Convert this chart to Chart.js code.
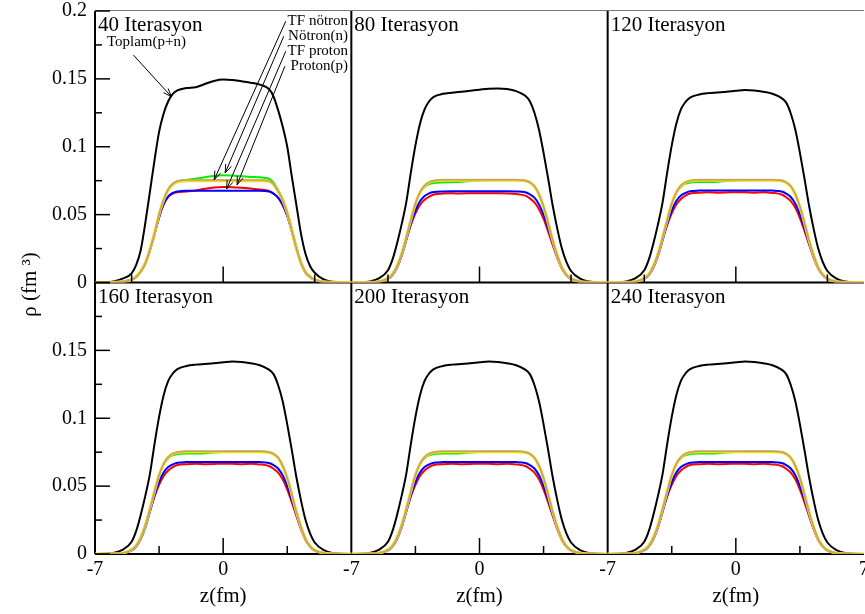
<!DOCTYPE html>
<html>
<head>
<meta charset="utf-8">
<script src="https://cdn.jsdelivr.net/npm/chart.js@4.4.1/dist/chart.umd.min.js"></script>
<style>
html, body { margin: 0; padding: 0; background: #fff; }
#kutu { width: 865px; height: 614px; position: relative; }
</style>
</head>
<body>
<div id="kutu"><canvas id="grafico" width="865" height="614"></canvas></div>
<script>
// z (fm) noktalari, tum seriler icin ortak
const zDegerleri = [-7, -6.5, -6, -5.5, -5, -4.75, -4.5, -4.25, -4, -3.75, -3.5, -3.25, -3, -2.75, -2.5, -2, -1.5, -1, -0.5, 0,
    0.5, 1, 1.5, 2, 2.5, 2.75, 3, 3.25, 3.5, 3.75, 4, 4.25, 4.5, 4.75, 5, 5.5, 6, 6.5, 7];

const basliklar = ['40 Iterasyon', '80 Iterasyon', '120 Iterasyon', '160 Iterasyon', '200 Iterasyon', '240 Iterasyon'];
const yTikleri = [0, 0.05, 0.1, 0.15, 0.2];
const yAraTikleri = [0.025, 0.075, 0.125, 0.175];
const xTikleri = [-7, 0, 7];

// 40 iterasyon
const toplam40 = [0, 0.0002, 0.0008, 0.0028, 0.0068, 0.013, 0.024, 0.044, 0.067, 0.090, 0.111, 0.1245, 0.1335, 0.139, 0.1415, 0.1432, 0.1438, 0.1462, 0.1485, 0.1495,
    0.1492, 0.1482, 0.1472, 0.1458, 0.1425, 0.137, 0.127, 0.115, 0.100, 0.078, 0.057, 0.036, 0.021, 0.012, 0.0072, 0.0022, 0.0005, 0.0001, 0];
const notron40 = [0, 0, 0.0001, 0.0005, 0.002, 0.004, 0.008, 0.014, 0.024, 0.036, 0.050, 0.061, 0.0685, 0.0728, 0.0745, 0.0755, 0.0765, 0.0775, 0.0785, 0.079,
    0.0788, 0.0782, 0.0778, 0.0775, 0.0765, 0.0735, 0.068, 0.0615, 0.052, 0.0395, 0.026, 0.015, 0.0075, 0.0042, 0.002, 0.0005, 0.0001, 0, 0];
const tfNotron40 = [0, 0, 0.0001, 0.0005, 0.002, 0.004, 0.008, 0.014, 0.024, 0.036, 0.050, 0.061, 0.0688, 0.0728, 0.0748, 0.0755, 0.0755, 0.0755, 0.0755, 0.0755,
    0.0755, 0.0755, 0.0755, 0.0755, 0.075, 0.0725, 0.0672, 0.061, 0.051, 0.038, 0.025, 0.0145, 0.0075, 0.0042, 0.002, 0.0005, 0.0001, 0, 0];
const sari40 = [0, 0, 0.0001, 0.0005, 0.002, 0.0041, 0.0082, 0.0142, 0.0242, 0.0362, 0.0502, 0.0608, 0.0683, 0.0722, 0.0742, 0.0749, 0.075, 0.075, 0.075, 0.075,
    0.075, 0.075, 0.075, 0.075, 0.0745, 0.0722, 0.067, 0.0608, 0.0512, 0.0382, 0.0252, 0.0147, 0.0076, 0.0043, 0.0021, 0.0005, 0.0001, 0, 0];
const proton40 = [0, 0, 0.0001, 0.0006, 0.0022, 0.0045, 0.0085, 0.0145, 0.0245, 0.036, 0.048, 0.0575, 0.063, 0.0655, 0.0665, 0.067, 0.0678, 0.069, 0.070, 0.0703,
    0.0702, 0.0698, 0.0692, 0.0685, 0.0675, 0.0655, 0.0625, 0.057, 0.049, 0.038, 0.0255, 0.0145, 0.0072, 0.004, 0.002, 0.0005, 0.0001, 0, 0];
const tfProton40 = [0, 0, 0.0001, 0.0005, 0.002, 0.0042, 0.008, 0.014, 0.0238, 0.0355, 0.048, 0.0578, 0.0635, 0.066, 0.067, 0.0675, 0.0675, 0.0675, 0.0675, 0.0675,
    0.0675, 0.0675, 0.0675, 0.0675, 0.067, 0.0655, 0.0625, 0.0572, 0.049, 0.0375, 0.025, 0.0142, 0.0072, 0.004, 0.002, 0.0005, 0.0001, 0, 0];

// 80 iterasyon
const toplam80 = [0, 0.0002, 0.0008, 0.003, 0.009, 0.017, 0.029, 0.043, 0.059, 0.081, 0.101, 0.117, 0.1275, 0.1335, 0.1368, 0.139, 0.1398, 0.1405, 0.1412, 0.142,
    0.1428, 0.143, 0.1425, 0.141, 0.1375, 0.1335, 0.125, 0.1125, 0.0955, 0.0765, 0.0565, 0.0395, 0.025, 0.015, 0.0085, 0.0028, 0.0007, 0.0001, 0];
const notron80 = [0, 0, 0.0001, 0.0006, 0.003, 0.006, 0.012, 0.021, 0.033, 0.046, 0.0575, 0.066, 0.0705, 0.0725, 0.0733, 0.0737, 0.0739, 0.0742, 0.0748, 0.0753,
    0.0755, 0.0755, 0.0755, 0.0755, 0.075, 0.0738, 0.071, 0.065, 0.056, 0.044, 0.031, 0.020, 0.011, 0.0058, 0.0028, 0.0006, 0.0001, 0, 0];
const tfNotron80 = [0, 0, 0.0001, 0.0006, 0.003, 0.006, 0.012, 0.021, 0.033, 0.046, 0.058, 0.0665, 0.0715, 0.074, 0.075, 0.0756, 0.0756, 0.0756, 0.0756, 0.0756,
    0.0756, 0.0756, 0.0756, 0.0756, 0.0751, 0.0738, 0.071, 0.065, 0.056, 0.044, 0.031, 0.020, 0.011, 0.0058, 0.0028, 0.0006, 0.0001, 0, 0];
const sari80 = [0, 0, 0.0001, 0.0006, 0.0031, 0.0062, 0.0122, 0.0212, 0.0332, 0.0462, 0.0582, 0.0664, 0.0713, 0.0738, 0.0748, 0.0754, 0.0754, 0.0754, 0.0754, 0.0754,
    0.0754, 0.0754, 0.0754, 0.0754, 0.0749, 0.0736, 0.0708, 0.0648, 0.0558, 0.0438, 0.0308, 0.0198, 0.0109, 0.0058, 0.0028, 0.0006, 0.0001, 0, 0];
const proton80 = [0, 0, 0.0001, 0.0006, 0.003, 0.0062, 0.0122, 0.021, 0.032, 0.0425, 0.051, 0.0572, 0.061, 0.0632, 0.0648, 0.0655, 0.0657, 0.0656, 0.0657, 0.0658,
    0.0658, 0.0657, 0.0656, 0.0652, 0.064, 0.062, 0.059, 0.054, 0.0468, 0.0375, 0.0275, 0.018, 0.0102, 0.0053, 0.0025, 0.0005, 0.0001, 0, 0];
const tfProton80 = [0, 0, 0.0001, 0.0005, 0.0026, 0.0055, 0.011, 0.0195, 0.031, 0.043, 0.053, 0.0598, 0.0637, 0.0657, 0.0666, 0.0671, 0.0672, 0.0672, 0.0672, 0.0672,
    0.0672, 0.0672, 0.0672, 0.0671, 0.0665, 0.065, 0.0625, 0.0575, 0.0498, 0.0398, 0.029, 0.019, 0.0105, 0.0055, 0.0026, 0.0005, 0.0001, 0, 0];

// 120 iterasyon (160, 200 ve 240 iterasyon resimde bununla ayni gorunuyor)
const toplam120 = [0, 0.0002, 0.0008, 0.003, 0.009, 0.017, 0.029, 0.043, 0.059, 0.081, 0.101, 0.117, 0.1275, 0.133, 0.1362, 0.1385, 0.1395, 0.140, 0.1405, 0.1412,
    0.1418, 0.1415, 0.1405, 0.139, 0.1358, 0.1325, 0.1245, 0.1125, 0.0955, 0.0765, 0.0565, 0.0395, 0.025, 0.015, 0.0085, 0.0028, 0.0007, 0.0001, 0];
const notron120 = [0, 0, 0.0001, 0.0006, 0.003, 0.006, 0.012, 0.021, 0.033, 0.046, 0.0575, 0.066, 0.0705, 0.0728, 0.0736, 0.074, 0.0741, 0.0743, 0.0748, 0.0752,
    0.0755, 0.0755, 0.0755, 0.0755, 0.075, 0.0738, 0.071, 0.065, 0.056, 0.044, 0.031, 0.020, 0.011, 0.0058, 0.0028, 0.0006, 0.0001, 0, 0];
const tfNotron120 = [0, 0, 0.0001, 0.0006, 0.003, 0.006, 0.012, 0.021, 0.033, 0.046, 0.058, 0.0665, 0.0715, 0.074, 0.075, 0.0756, 0.0756, 0.0756, 0.0756, 0.0756,
    0.0756, 0.0756, 0.0756, 0.0756, 0.0751, 0.0738, 0.071, 0.065, 0.056, 0.044, 0.031, 0.020, 0.011, 0.0058, 0.0028, 0.0006, 0.0001, 0, 0];
const sari120 = [0, 0, 0.0001, 0.0006, 0.0031, 0.0062, 0.0122, 0.0212, 0.0332, 0.0462, 0.0582, 0.0664, 0.0713, 0.0738, 0.0748, 0.0754, 0.0754, 0.0754, 0.0754, 0.0754,
    0.0754, 0.0754, 0.0754, 0.0754, 0.0749, 0.0736, 0.0708, 0.0648, 0.0558, 0.0438, 0.0308, 0.0198, 0.0109, 0.0058, 0.0028, 0.0006, 0.0001, 0, 0];
const proton120 = [0, 0, 0.0001, 0.0006, 0.003, 0.0062, 0.0122, 0.021, 0.032, 0.0425, 0.051, 0.0575, 0.0615, 0.064, 0.0655, 0.0662, 0.0664, 0.0662, 0.0663, 0.0665,
    0.0664, 0.0662, 0.0664, 0.066, 0.0648, 0.0628, 0.060, 0.055, 0.0475, 0.038, 0.028, 0.0182, 0.0103, 0.0054, 0.0025, 0.0005, 0.0001, 0, 0];
const tfProton120 = [0, 0, 0.0001, 0.0005, 0.0026, 0.0055, 0.011, 0.0195, 0.031, 0.043, 0.053, 0.060, 0.064, 0.066, 0.0672, 0.0677, 0.0678, 0.0678, 0.0678, 0.0678,
    0.0678, 0.0678, 0.0678, 0.0677, 0.067, 0.0655, 0.063, 0.058, 0.050, 0.040, 0.029, 0.019, 0.0105, 0.0055, 0.0026, 0.0005, 0.0001, 0, 0];

const paneller = [
    { toplam: toplam40, notron: notron40, tfNotron: tfNotron40, sari: sari40, proton: proton40, tfProton: tfProton40 },
    { toplam: toplam80, notron: notron80, tfNotron: tfNotron80, sari: sari80, proton: proton80, tfProton: tfProton80 },
    { toplam: toplam120, notron: notron120, tfNotron: tfNotron120, sari: sari120, proton: proton120, tfProton: tfProton120 },
    { toplam: toplam120, notron: notron120, tfNotron: tfNotron120, sari: sari120, proton: proton120, tfProton: tfProton120 },
    { toplam: toplam120, notron: notron120, tfNotron: tfNotron120, sari: sari120, proton: proton120, tfProton: tfProton120 },
    { toplam: toplam120, notron: notron120, tfNotron: tfNotron120, sari: sari120, proton: proton120, tfProton: tfProton120 }
];

// ilk dataset en ustte cizilir
const cizgiler = [
    { anahtar: 'tfNotron', etiket: 'TF nötron', renk: '#c09a8a', kalinlik: 1.5 },
    { anahtar: 'sari', etiket: 'TF', renk: '#f5e000', kalinlik: 3 },
    { anahtar: 'tfProton', etiket: 'TF proton', renk: '#0000ff', kalinlik: 2 },
    { anahtar: 'proton', etiket: 'Proton(p)', renk: '#ff0000', kalinlik: 2 },
    { anahtar: 'notron', etiket: 'Nötron(n)', renk: '#00ee00', kalinlik: 2 },
    { anahtar: 'toplam', etiket: 'Toplam(p+n)', renk: '#000000', kalinlik: 2 }
];

// 40 iterasyon panelindeki oklar (z, rho)
const okYazilari = [
    { metin: 'TF nötron', z: 6.82, rho: 0.1923, ucZ: -0.49, ucRho: 0.0757, basZ: 3.42, basRho: 0.1925 },
    { metin: 'Nötron(n)', z: 6.82, rho: 0.1815, ucZ: 0.11, ucRho: 0.0807, basZ: 3.31, basRho: 0.1814 },
    { metin: 'TF proton', z: 6.82, rho: 0.1706, ucZ: 0.19, ucRho: 0.0689, basZ: 3.42, basRho: 0.1704 },
    { metin: 'Proton(p)', z: 6.82, rho: 0.1597, ucZ: 0.76, ucRho: 0.0720, basZ: 3.37, basRho: 0.1593 }
];
const toplamYazisi = { metin: 'Toplam(p+n)', z: -6.35, rho: 0.1768, ucZ: -2.82, ucRho: 0.1368, basZ: -4.9, basRho: 0.1675 };

const yaziTipi = '"Liberation Serif", "Times New Roman", serif';

const datasets = [];
paneller.forEach((p, i) => {
    const satir = i < 3 ? 0 : 1;
    const sutun = i % 3;
    cizgiler.forEach(c => {
        datasets.push({
            label: c.etiket + ' - ' + basliklar[i],
            data: zDegerleri.map((z, k) => ({ x: z, y: p[c.anahtar][k] })),
            borderColor: c.renk,
            borderWidth: c.kalinlik,
            pointRadius: 0,
            fill: false,
            cubicInterpolationMode: 'monotone',
            xAxisID: 'x' + sutun,
            yAxisID: 'y' + satir
        });
    });
});

function xEkseni(sutun) {
    return {
        type: 'linear',
        position: 'bottom',
        stack: 'alt',
        min: -7,
        max: 7,
        grid: { display: false, drawTicks: false },
        border: { display: false },
        afterBuildTicks: ax => { ax.ticks = xTikleri.map(v => ({ value: v })); },
        afterFit: ax => { ax.height = 60; ax.paddingLeft = 0; ax.paddingRight = 0; },
        ticks: {
            autoSkip: false,
            maxRotation: 0,
            padding: 4,
            color: '#000',
            font: { family: yaziTipi, size: 20 },
            callback: v => (v === 7 && sutun < 2) ? '' : String(v)
        },
        title: { display: true, text: 'z(fm)', color: '#000', font: { family: yaziTipi, size: 21 }, padding: { top: 0, bottom: 5 } }
    };
}

function yEkseni(satir) {
    return {
        type: 'linear',
        position: 'left',
        stack: 'sol',
        weight: satir === 0 ? 1 : 0,
        min: 0,
        max: 0.2,
        grid: { display: false, drawTicks: false },
        border: { display: false },
        afterBuildTicks: ax => { ax.ticks = yTikleri.map(v => ({ value: v })); },
        afterFit: ax => { ax.width = 95; ax.paddingTop = 0; ax.paddingBottom = 0; },
        ticks: {
            autoSkip: false,
            padding: 8,
            color: '#000',
            font: { family: yaziTipi, size: 20 },
            callback: v => (v === 0.2 && satir === 1) ? '' : String(v)
        }
    };
}

function ok(ctx, x1, y1, x2, y2) {
    const a = Math.atan2(y2 - y1, x2 - x1);
    ctx.beginPath();
    ctx.moveTo(x1, y1);
    ctx.lineTo(x2, y2);
    ctx.moveTo(x2 - 9 * Math.cos(a - 0.35), y2 - 9 * Math.sin(a - 0.35));
    ctx.lineTo(x2, y2);
    ctx.lineTo(x2 - 9 * Math.cos(a + 0.35), y2 - 9 * Math.sin(a + 0.35));
    ctx.stroke();
}

const cerceve = {
    id: 'cerceve',
    beforeDatasetsDraw(chart) {
        // panel cerceveleri (egriler ustune biner)
        const ctx = chart.ctx;
        const xs = [chart.scales.x0, chart.scales.x1, chart.scales.x2];
        const ys = [chart.scales.y0, chart.scales.y1];
        ctx.save();
        ctx.strokeStyle = '#000';
        ctx.lineWidth = 2;
        ctx.beginPath();
        xs.forEach(ex => {
            if (ex.left < chart.width - 3) {
                ctx.moveTo(ex.left, ys[0].top); ctx.lineTo(ex.left, ys[1].bottom);
            }
        });
        ys.forEach(ey => { ctx.moveTo(xs[0].left, ey.bottom); ctx.lineTo(xs[2].right, ey.bottom); });
        ctx.stroke();
        ctx.strokeStyle = '#777';
        ctx.lineWidth = 1;
        ctx.beginPath();
        ctx.moveTo(xs[0].left, ys[0].top - 0.5); ctx.lineTo(xs[2].right, ys[0].top - 0.5);
        ctx.stroke();
        ctx.restore();
    },
    afterDatasetsDraw(chart) {
        const ctx = chart.ctx;
        const xs = [chart.scales.x0, chart.scales.x1, chart.scales.x2];
        const ys = [chart.scales.y0, chart.scales.y1];
        ctx.save();
        ctx.strokeStyle = '#000';
        ctx.fillStyle = '#000';

        // sol eksen tikleri
        ctx.lineWidth = 1.5;
        ys.forEach(ey => {
            const x0 = xs[0].left;
            yTikleri.forEach(v => {
                const y = ey.getPixelForValue(v);
                ctx.beginPath(); ctx.moveTo(x0, y); ctx.lineTo(x0 + 15, y); ctx.stroke();
            });
            yAraTikleri.forEach(v => {
                const y = ey.getPixelForValue(v);
                ctx.beginPath(); ctx.moveTo(x0, y); ctx.lineTo(x0 + 7, y); ctx.stroke();
            });
        });

        // alt kenar tikleri (ust sirada +-5, alt sirada +-3.5)
        ys.forEach((ey, r) => xs.forEach(ex => {
            const yb = ey.bottom;
            const ara = r === 0 ? [-5, 5] : [-3.5, 3.5];
            let x = ex.getPixelForValue(0);
            ctx.beginPath(); ctx.moveTo(x, yb); ctx.lineTo(x, yb - 16); ctx.stroke();
            ara.forEach(v => {
                x = ex.getPixelForValue(v);
                ctx.beginPath(); ctx.moveTo(x, yb); ctx.lineTo(x, yb - 8); ctx.stroke();
            });
        }));

        // panel basliklari
        ctx.font = '21px ' + yaziTipi;
        ctx.textAlign = 'left';
        ctx.textBaseline = 'alphabetic';
        basliklar.forEach((b, i) => {
            const ex = xs[i % 3];
            const ey = ys[i < 3 ? 0 : 1];
            ctx.fillText(b, ex.left + 3, ey.top + 20);
        });

        // oklar ve etiketler (40 iterasyon)
        const ex = xs[0], ey = ys[0];
        ctx.font = '15px ' + yaziTipi;
        ctx.lineWidth = 1;
        ctx.textBaseline = 'middle';
        ctx.textAlign = 'right';
        okYazilari.forEach(o => {
            ctx.fillText(o.metin, ex.getPixelForValue(o.z), ey.getPixelForValue(o.rho));
            ok(ctx, ex.getPixelForValue(o.basZ), ey.getPixelForValue(o.basRho), ex.getPixelForValue(o.ucZ), ey.getPixelForValue(o.ucRho));
        });
        ctx.textAlign = 'left';
        ctx.fillText(toplamYazisi.metin, ex.getPixelForValue(toplamYazisi.z), ey.getPixelForValue(toplamYazisi.rho));
        ok(ctx, ex.getPixelForValue(toplamYazisi.basZ), ey.getPixelForValue(toplamYazisi.basRho),
            ex.getPixelForValue(toplamYazisi.ucZ), ey.getPixelForValue(toplamYazisi.ucRho));

        // y ekseni basligi
        ctx.translate(30, ys[0].bottom + 2);
        ctx.rotate(-Math.PI / 2);
        ctx.textAlign = 'center';
        ctx.font = '21px ' + yaziTipi;
        ctx.fillText('ρ (fm ³)', 0, 0);
        ctx.restore();
    }
};

const grafik = new Chart(document.getElementById('grafico').getContext('2d'), {
    type: 'line',
    data: { datasets: datasets },
    options: {
        responsive: false,
        animation: false,
        layout: { padding: { top: 11, right: 1, left: 0, bottom: 0 } },
        plugins: { legend: { display: false }, tooltip: { enabled: false } },
        scales: {
            x0: xEkseni(0),
            x1: xEkseni(1),
            x2: xEkseni(2),
            y0: yEkseni(0),
            y1: yEkseni(1)
        }
    },
    plugins: [cerceve]
});
</script>
</body>
</html>
